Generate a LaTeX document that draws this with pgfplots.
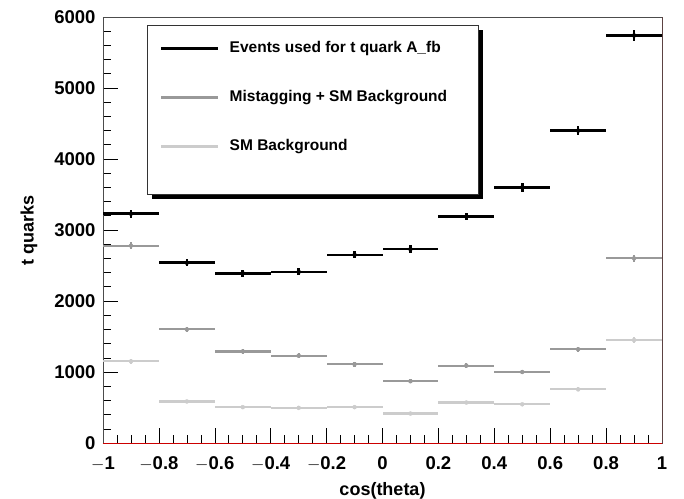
\documentclass[border=0pt]{standalone}
\usepackage{pgfplots}
\pgfplotsset{compat=1.18}
\usepackage{fontspec}
\setmainfont{Liberation Sans}
\usetikzlibrary{shadows}
\definecolor{midgray}{HTML}{999999}
\definecolor{lightgray}{HTML}{CCCCCC}
\begin{document}
\begin{tikzpicture}[x=1bp,y=1bp]
\begin{axis}[
  scale only axis,
  width=559bp, height=426bp,
  xmin=-1, xmax=1, ymin=0, ymax=6000,
  xtick={-1,-0.8,...,1.01},
  xticklabels={$-$1,$-$0.8,$-$0.6,$-$0.4,$-$0.2,0,0.2,0.4,0.6,0.8,1},
  ytick={0,1000,...,6000},
  minor x tick num=3,
  minor y tick num=4,
  tick align=inside,
  xtick pos=bottom, ytick pos=left,
  major tick length=15bp, minor tick length=8bp,
  tick style={black, line width=0.6bp},
  axis line style={black!70, line width=0.8bp},
  /pgf/number format/assume math mode=true,
  scaled y ticks=false,
  yticklabel style={/pgf/number format/1000 sep={}, xshift=-4bp},
  ticklabel style={font=\fontsize{18.5bp}{20bp}\selectfont\bfseries},
  xticklabel style={yshift=-10bp},
  xlabel={cos(theta)}, ylabel={t quarks},
  label style={font=\fontsize{18bp}{20bp}\selectfont\bfseries},
  xlabel style={yshift=-5bp},
  ylabel style={yshift=10bp},
  legend style={at={(0.102,0.9437)}, anchor=north west, draw=none, fill=none,
    inner sep=0pt, font=\fontsize{15.5bp}{17bp}\selectfont\bfseries,
    nodes={inner sep=0pt, text height=11bp, text depth=4bp},
    column sep=10bp, row sep=34bp},
  legend cell align=left,
  legend image code/.code={\draw[#1, line width=2.5bp] (0bp,0bp) -- (57bp,0bp);},
  error bars/error mark=none,
]
\addplot[black, only marks, mark=none, forget plot,
  error bars/.cd, x dir=both, x explicit, y dir=both, y explicit,
  error bar style={black, line width=2.6bp}]
coordinates {
(-0.9,3230) +- (0.1,57)
(-0.7,2540) +- (0.1,50)
(-0.5,2390) +- (0.1,49)
(-0.3,2410) +- (0.1,49)
(-0.1,2650) +- (0.1,51)
(0.1,2730) +- (0.1,52)
(0.3,3190) +- (0.1,56)
(0.5,3600) +- (0.1,60)
(0.7,4400) +- (0.1,66)
(0.9,5740) +- (0.1,75)
};
\addplot[midgray, only marks, mark=none, forget plot,
  error bars/.cd, x dir=both, x explicit, y dir=both, y explicit,
  error bar style={midgray, line width=2.2bp}]
coordinates {
(-0.9,2780) +- (0.1,50)
(-0.7,1600) +- (0.1,40)
(-0.5,1290) +- (0.1,36)
(-0.3,1230) +- (0.1,35)
(-0.1,1110) +- (0.1,33)
(0.1,870) +- (0.1,30)
(0.3,1090) +- (0.1,33)
(0.5,1000) +- (0.1,32)
(0.7,1320) +- (0.1,36)
(0.9,2600) +- (0.1,51)
};
\addplot[lightgray, only marks, mark=none, forget plot,
  error bars/.cd, x dir=both, x explicit, y dir=both, y explicit,
  error bar style={lightgray, line width=2.2bp}]
coordinates {
(-0.9,1150) +- (0.1,34)
(-0.7,585) +- (0.1,24)
(-0.5,505) +- (0.1,22)
(-0.3,495) +- (0.1,22)
(-0.1,505) +- (0.1,22)
(0.1,415) +- (0.1,20)
(0.3,570) +- (0.1,24)
(0.5,545) +- (0.1,23)
(0.7,755) +- (0.1,27)
(0.9,1450) +- (0.1,38)
};
\draw[red!80!black, line width=0.9bp] (rel axis cs:0,0) -- (rel axis cs:1,0) -- (rel axis cs:1,1);
\draw[black!80, line width=0.7bp, fill=white,
  drop shadow={shadow xshift=5bp, shadow yshift=-5bp, fill=black, opacity=1}]
  (rel axis cs:0.0787,0.981) rectangle (rel axis cs:0.6708,0.5845);
\addlegendimage{black}
\addlegendentry{Events used for t quark A\_fb}
\addlegendimage{midgray}
\addlegendentry{Mistagging + SM Background}
\addlegendimage{lightgray}
\addlegendentry{SM Background}
\coordinate (sw) at (rel axis cs:0,0);
\end{axis}
\pgfresetboundingbox
\path[use as bounding box] (sw) ++(-103bp,-56bp) rectangle ++(684bp,499bp);
\end{tikzpicture}
\end{document}
